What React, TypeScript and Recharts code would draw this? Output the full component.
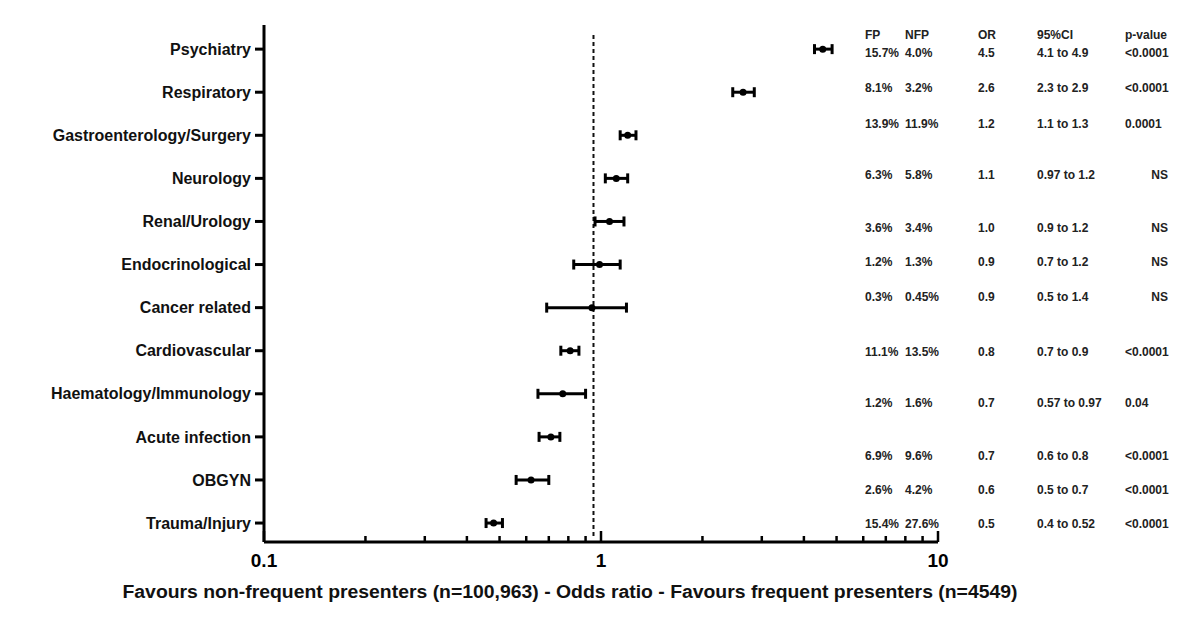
import {
  CartesianGrid,
  Customized,
  ErrorBar,
  ReferenceLine,
  Scatter,
  ScatterChart,
  XAxis,
  YAxis,
} from "recharts";

// Forest plot: odds ratio (log scale) with 95% CI per diagnostic group.

const categories = [
  "Psychiatry",
  "Respiratory",
  "Gastroenterology/Surgery",
  "Neurology",
  "Renal/Urology",
  "Endocrinological",
  "Cancer related",
  "Cardiovascular",
  "Haematology/Immunology",
  "Acute infection",
  "OBGYN",
  "Trauma/Injury",
];

// values as drawn in the plot
const oddsRatio = [4.55, 2.64, 1.2, 1.11, 1.06, 0.99, 0.94, 0.81, 0.77, 0.71, 0.62, 0.48];
const ciLow = [4.3, 2.46, 1.14, 1.03, 0.96, 0.83, 0.69, 0.76, 0.65, 0.655, 0.56, 0.456];
const ciHigh = [4.85, 2.85, 1.27, 1.2, 1.17, 1.14, 1.19, 0.86, 0.9, 0.755, 0.7, 0.51];

// table on the right
const tableHeaders = ["FP", "NFP", "OR", "95%CI", "p-value"];
const fpPct = ["15.7%", "8.1%", "13.9%", "6.3%", "3.6%", "1.2%", "0.3%", "11.1%", "1.2%", "6.9%", "2.6%", "15.4%"];
const nfpPct = ["4.0%", "3.2%", "11.9%", "5.8%", "3.4%", "1.3%", "0.45%", "13.5%", "1.6%", "9.6%", "4.2%", "27.6%"];
const orText = ["4.5", "2.6", "1.2", "1.1", "1.0", "0.9", "0.9", "0.8", "0.7", "0.7", "0.6", "0.5"];
const ciText = [
  "4.1 to 4.9",
  "2.3 to 2.9",
  "1.1 to 1.3",
  "0.97 to 1.2",
  "0.9 to 1.2",
  "0.7 to 1.2",
  "0.5 to 1.4",
  "0.7 to 0.9",
  "0.57 to 0.97",
  "0.6 to 0.8",
  "0.5 to 0.7",
  "0.4 to 0.52",
];
const pText = ["<0.0001", "<0.0001", "0.0001", "NS", "NS", "NS", "NS", "<0.0001", "0.04", "<0.0001", "<0.0001", "<0.0001"];

const xTicks = [0.1, 0.2, 0.3, 0.4, 0.5, 0.6, 0.7, 0.8, 0.9, 1, 2, 3, 4, 5, 6, 7, 8, 9, 10];
const xMajor = [0.1, 1, 10];
const nullLine = 0.95;

// layout of the table (pixels)
const tableCols = [865, 905, 978, 1037, 1125];
const tableHeaderY = 35;
const tableRowY = [53, 88, 124, 175, 228, 262, 297, 352, 403, 456, 490, 524];

const data = categories.map((name, i) => ({
  idx: i,
  name,
  or: oddsRatio[i],
  err: [oddsRatio[i] - ciLow[i], ciHigh[i] - oddsRatio[i]],
}));

const FONT = "'Liberation Sans', Arial, sans-serif";
const NARROW = "'Liberation Sans Narrow', 'Liberation Sans', Arial, sans-serif";

function XTick(props: any) {
  const { x, y, payload } = props;
  const v = payload.value;
  const major = xMajor.includes(v);
  return (
    <g>
      <line x1={x} x2={x} y1={y} y2={y - (major ? 11 : 6)} stroke="#000" strokeWidth={2.5} />
      {major && (
        <text x={x} y={y + 25} textAnchor="middle" fontSize={19} fontWeight="bold" fontFamily={FONT} fill="#000">
          {v}
        </text>
      )}
    </g>
  );
}

function Table() {
  const cols = [fpPct, nfpPct, orText, ciText, pText];
  const txt = { fontSize: 12, fontWeight: "bold" as const, fontFamily: NARROW, fill: "#222" };
  return (
    <g>
      {tableHeaders.map((h, c) => (
        <text key={h} x={tableCols[c]} y={tableHeaderY} dy="0.35em" {...txt}>
          {h}
        </text>
      ))}
      {tableRowY.map((y, r) =>
        cols.map((col, c) => {
          const ns = c === 4 && col[r] === "NS";
          return (
            <text
              key={`${r}-${c}`}
              x={ns ? 1168 : tableCols[c]}
              y={y}
              dy="0.35em"
              textAnchor={ns ? "end" : "start"}
              {...txt}
            >
              {col[r]}
            </text>
          );
        })
      )}
      <text
        x={570}
        y={592}
        dy="0.35em"
        textAnchor="middle"
        fontSize={18}
        fontWeight="bold"
        fontFamily={FONT}
        fill="#111"
        textLength={895}
        lengthAdjust="spacingAndGlyphs"
      >
        Favours non-frequent presenters (n=100,963) - Odds ratio - Favours frequent presenters (n=4549)
      </text>
    </g>
  );
}

export default function App() {
  return (
    <div style={{ position: "absolute", left: 0, top: 0, width: 1200, height: 629, background: "#fff" }}>
      <ScatterChart width={1200} height={629} margin={{ top: 25, right: 262, bottom: 0, left: 0 }}>
        <CartesianGrid stroke="none" />
        <XAxis
          type="number"
          dataKey="or"
          scale="log"
          domain={[0.1, 10]}
          allowDataOverflow
          ticks={xTicks}
          interval={0}
          height={87}
          tickSize={0}
          tickMargin={0}
          tickLine={false}
          axisLine={{ stroke: "#000", strokeWidth: 3 }}
          tick={<XTick />}
        />
        <YAxis
          type="number"
          dataKey="idx"
          domain={[-0.56, 11.44]}
          allowDataOverflow
          reversed
          ticks={categories.map((_, i) => i)}
          interval={0}
          width={264}
          tickSize={9}
          tickMargin={4}
          tickFormatter={(v) => categories[v] ?? ""}
          tickLine={{ stroke: "#000", strokeWidth: 3 }}
          axisLine={{ stroke: "#000", strokeWidth: 3 }}
          tick={{ fill: "#111", fontSize: 16, fontWeight: "bold", fontFamily: FONT }}
        />
        <ReferenceLine
          segment={[
            { x: nullLine, y: -0.33 },
            { x: nullLine, y: 11.33 },
          ]}
          stroke="#111"
          strokeWidth={2}
          strokeDasharray="4 3"
        />
        <Scatter
          data={data}
          fill="#000"
          isAnimationActive={false}
          shape={(p: any) => <circle cx={p.cx} cy={p.cy} r={3.5} fill="#000" />}
        >
          <ErrorBar dataKey="err" direction="x" width={5} stroke="#000" strokeWidth={3} />
        </Scatter>
        <Customized component={Table} />
      </ScatterChart>
    </div>
  );
}
